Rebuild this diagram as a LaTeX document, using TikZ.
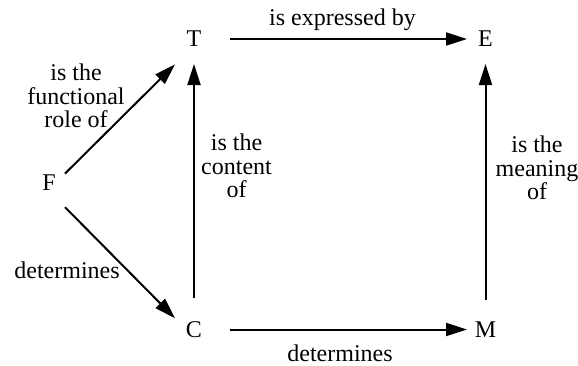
\documentclass[tikz,border=0pt]{standalone}
\usepackage{fontspec}
\setmainfont{Liberation Serif}
\usetikzlibrary{arrows.meta}
\begin{document}
\begin{tikzpicture}[x=0.5pt,y=-0.5pt,
  every node/.style={font=\rmfamily\fontsize{12}{11.75}\selectfont, inner sep=0pt},
  lbl/.style={align=center},
  rel/.style={line width=1pt, -{Triangle[length=10.5pt,width=6.5pt]}}]
\useasboundingbox (0,0) rectangle (578,365);
% vertices
\node (T) at (194,39) {T};
\node (E) at (485.5,39) {E};
\node (F) at (49,183) {F};
\node (C) at (194,329.5) {C};
\node (M) at (485.5,329.5) {M};
% connectors
\draw[rel, shorten <=18pt, shorten >=9.25pt] (T.center) -- (E.center);
\draw[rel, shorten <=18pt, shorten >=9.25pt] (C.center) -- (M.center);
\draw[rel, shorten <=15.75pt, shorten >=12.5pt] (C.center) -- (T.center);
\draw[rel, shorten <=14.75pt, shorten >=12.5pt] (M.center) -- (E.center);
\draw[rel, transform canvas={yshift=-3.25pt}, shorten <=11.3pt, shorten >=13.4pt] (F.center) -- (T.center);
\draw[rel, transform canvas={yshift=-4pt}, shorten <=11.4pt, shorten >=13.5pt] (F.center) -- (C.center);
% labels
\node[anchor=base] (l1) at (342.5,25) {is expressed by};
\node[lbl] (l2) at (76,96) {is the\\functional\\role of};
\node[lbl] (l3) at (236.5,166) {is the\\content\\of};
\node[lbl] (l4) at (537,168) {is the\\meaning\\of};
\node[anchor=base] (l5) at (67,278) {determines};
\node[anchor=base] (l6) at (340,361) {determines};
\end{tikzpicture}
\end{document}
